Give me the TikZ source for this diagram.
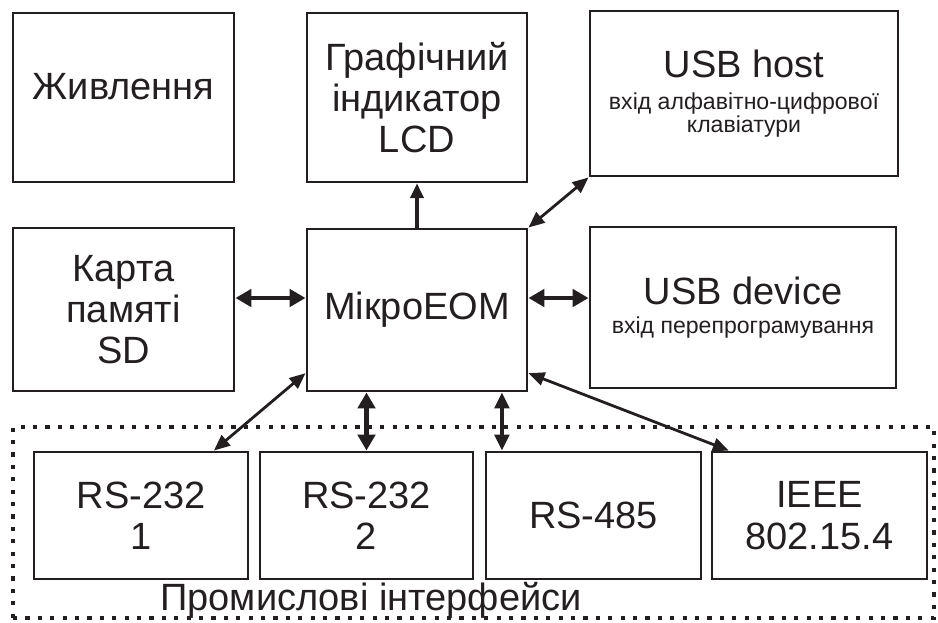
\documentclass[tikz,border=0pt]{standalone}
\usepackage{fontspec}
\setmainfont{Liberation Sans}
\usetikzlibrary{arrows.meta,calc}
\definecolor{ink}{HTML}{231F20}
\newcommand{\bigtxt}{\fontsize{28.5}{31}\selectfont}
\newcommand{\subtxt}{\fontsize{17.3}{15}\selectfont}

\begin{document}
\begin{tikzpicture}[x=0.75pt,y=-0.75pt,
  box/.style={draw=ink, line width=2.2pt, inner sep=0pt, align=center,
    text=ink, font=\bigtxt},
  subbox/.style={box, font=\subtxt},
  sz/.style 2 args={minimum width=#1*0.75pt, minimum height=#2*0.75pt},
  dotframe/.style={draw=ink, line width=2.4pt, dash pattern=on 3.2pt off 6.1pt,
    inner sep=0pt},
  bigdbl/.style={draw=ink, line width=3.5pt,
    {Triangle[length=12pt,width=13pt]}-{Triangle[length=12pt,width=13pt]}},
  middbl/.style={draw=ink, line width=2.5pt,
    {Triangle[length=12pt,width=11pt]}-{Triangle[length=12pt,width=11pt]}},
  thindbl/.style={draw=ink, line width=2.1pt,
    {Triangle[length=12pt,width=10pt]}-{Triangle[length=12pt,width=10pt]}},
  oneway/.style={draw=ink, line width=2.3pt, -{Triangle[length=11pt,width=10pt]}},
  caption/.style={text=ink, font=\bigtxt, inner sep=0pt}
]
\useasboundingbox (0,0) rectangle (938,622);

% top row
\node[box, sz={221}{169}, label={[name=pwtext, text=ink, font=\bigtxt,
  inner sep=0pt, yshift=8pt]center:Живлення}] (pw) at (123.5,97.5) {};
\node[box, sz={220}{169}] (lcd) at (417,97.5) {Графічний\\індикатор\\LCD};
\node[subbox, sz={308}{165}] (host) at (744,93.5)
  {{\bigtxt USB host}\\[9pt]вхід алфавітно-цифрової\\клавіатури};

% middle row
\node[box, sz={221}{163}] (sd)  at (123.5,309.5) {Карта\\памяті\\SD};
\node[box, sz={220}{162}] (mc)  at (417,310) {МікроЕОМ};
\node[subbox, sz={306}{161}] (dev) at (743,307.5)
  {{\bigtxt USB device}\\[7pt]вхід перепрограмування};

% industrial interfaces group
\node[dotframe, sz={921}{191}] (grp) at (473.5,522.5) {};
\node[box, sz={214}{127}] (rs1)   at (141,515.5)   {RS-232\\1};
\node[box, sz={213}{127}] (rs2)   at (366.5,515.5) {RS-232\\2};
\node[box, sz={215}{127}] (rs485) at (593.5,515.5) {RS-485};
\node[box, sz={215}{127}] (ieee)  at (819.5,515.5) {IEEE\\802.15.4};
\node[caption] (cap) at (371,600) {Промислові інтерфейси};

% connectors
\draw[oneway] (mc.north) -- (lcd.south);
\draw[thindbl] (mc.north east) -- (host.south west);

\coordinate (hl) at ($(mc.west)+(0,-12)$);
\coordinate (hr) at ($(mc.east)+(0,-12)$);
\draw[bigdbl] (sd.east |- hl) -- (hl);
\draw[bigdbl] (hr) -- (dev.west |- hr);

\draw[bigdbl] (rs2.north |- mc.south) -- (rs2.north);
\coordinate (v485) at ($(rs485.north west)!0.08!(rs485.north east)$);
\draw[middbl] (v485 |- mc.south) -- (v485);

\draw[thindbl] ($(mc.south west)!0.117!(mc.north west)$)
  -- ($(rs1.north west)!0.836!(rs1.north east)$);
\draw[thindbl] ($(mc.south east)!0.117!(mc.north east)$)
  -- ($(ieee.north west)!0.084!(ieee.north east)$);
\end{tikzpicture}
\end{document}
